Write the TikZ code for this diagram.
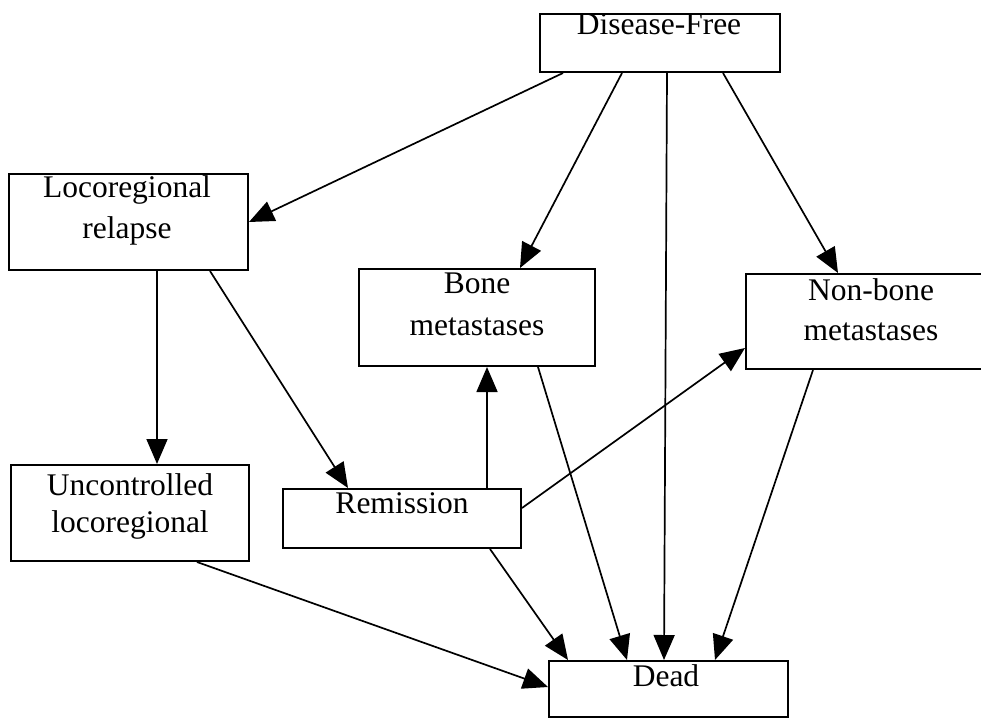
\documentclass[tikz,border=0pt]{standalone}
\usepackage{fontspec}
\setmainfont{Liberation Serif}
\usetikzlibrary{arrows.meta,calc}
\tikzset{
  box/.style={draw, line width=2pt, rectangle, inner sep=0pt, anchor=north west},
  lbl/.style={anchor=base, inner sep=0pt, font=\fontsize{31.5}{40}\selectfont},
  conn/.style={line width=1.7pt, -{Triangle[length=25pt,width=21pt]}}
}
\begin{document}
\begin{tikzpicture}[x=1pt,y=-1pt]
\clip (0,0) rectangle (981,717);
\fill[white] (0,0) rectangle (981,717);
% boxes
\node[box, minimum width=240, minimum height=58] (df) at (539,13) {};
\node[box, minimum width=239, minimum height=96] (lr) at (8,173) {};
\node[box, minimum width=236, minimum height=97] (bm) at (358,268) {};
\node[box, minimum width=252, minimum height=95] (nb) at (745,273) {};
\node[box, minimum width=238, minimum height=96] (uc) at (10,464) {};
\node[box, minimum width=238, minimum height=59] (rm) at (282,488) {};
\node[box, minimum width=239, minimum height=56] (dd) at (548,660) {};
% texts
\node[lbl] (dft) at (659,35) {Disease-Free};
\node[lbl] (lrt1) at (127,197) {Locoregional};
\node[lbl] (lrt2) at (127,238) {relapse};
\node[lbl] (bmt1) at (477,293) {Bone};
\node[lbl] (bmt2) at (477,335) {metastases};
\node[lbl] (nbt1) at (871,300) {Non-bone};
\node[lbl] (nbt2) at (871,340) {metastases};
\node[lbl] (uct1) at (130,495) {Uncontrolled};
\node[lbl] (uct2) at (130,532) {locoregional};
\node[lbl] (rmt) at (402,513) {Remission};
\node[lbl] (ddt) at (666,686) {Dead};
% connectors
\draw[conn] ($(df.south west)+(24,0)$) -- ($(lr.north east)+(0,49)$);
\draw[conn] ($(df.south west)+(83,0)$) -- ($(bm.north west)+(162,0)$);
\draw[conn] ($(df.south west)+(128,0)$) -- ($(dd.north west)+(116,0)$);
\draw[conn] ($(df.south west)+(184,0)$) -- ($(nb.north west)+(93,0)$);
\draw[conn] ($(lr.south west)+(149,0)$) -- ($(uc.north west)+(147,0)$);
\draw[conn] ($(lr.south west)+(202,0)$) -- ($(rm.north west)+(66,0)$);
\draw[conn] ($(rm.north west)+(205,0)$) -- ($(bm.south west)+(129,0)$);
\draw[conn] ($(rm.north east)+(0,20)$) -- ($(nb.north west)+(0,75)$);
\draw[conn] ($(rm.south west)+(208,0)$) -- ($(dd.north west)+(20,0)$);
\draw[conn] ($(bm.south west)+(180,0)$) -- ($(dd.north west)+(79,0)$);
\draw[conn] ($(nb.south west)+(68,0)$) -- ($(dd.north west)+(167,0)$);
\draw[conn] ($(uc.south west)+(187,0)$) -- ($(dd.north west)+(0,27)$);
\end{tikzpicture}
\end{document}
